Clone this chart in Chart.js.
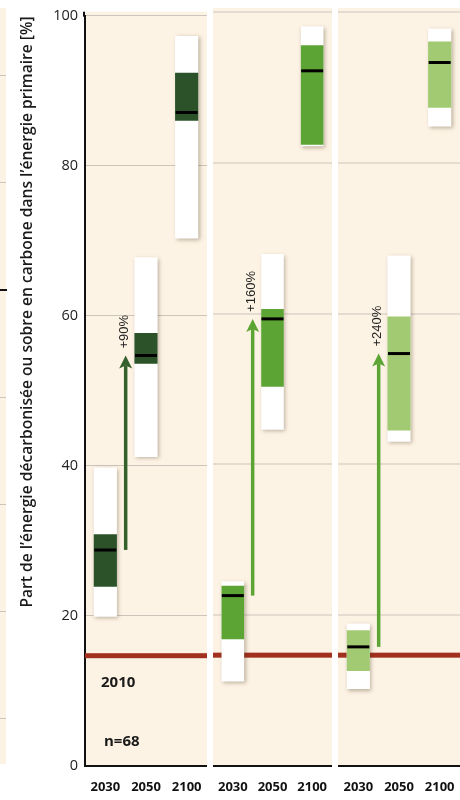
<!DOCTYPE html>
<html lang="fr">
<head>
<meta charset="utf-8">
<title>Part de l'énergie décarbonisée</title>
<script src="https://cdn.jsdelivr.net/npm/chart.js@4.4.1/dist/chart.umd.min.js"></script>
<style>
  html, body { margin: 0; padding: 0; background: #fff; }
  body { width: 460px; height: 800px; position: relative; overflow: hidden; }
  .panel { position: absolute; top: 0; height: 800px; }
  #p1 { left: 0; width: 207px; }
  #p2 { left: 213px; width: 119px; }
  #p3 { left: 338px; width: 122px; }
  /* bit of the neighbouring figure, cut at the left edge */
  #edge {
    position: absolute; left: 0; top: 8px; width: 6px; height: 756px;
    background: repeating-linear-gradient(#fdf3e4 0 67px, #cbc5bc 67px 68px, #fdf3e4 68px 107.2px);
  }
  #edge-tick { position: absolute; left: 0; top: 289px; width: 7px; height: 2px; background: #111; }
</style>
</head>
<body>
<div id="edge"></div>
<div id="edge-tick"></div>
<div class="panel" id="p1"><canvas id="chart1"></canvas></div>
<div class="panel" id="p2"><canvas id="chart2"></canvas></div>
<div class="panel" id="p3"><canvas id="chart3"></canvas></div>

<script>
const years = ['2030', '2050', '2100'];
const yTicks = [0, 20, 40, 60, 80, 100];

// panel 1 - dark green
const min1 = [19.9, 41.2, 70.3];
const max1 = [39.8, 67.8, 97.3];
const low1 = [23.9, 53.6, 86.0];
const high1 = [30.9, 57.7, 92.4];
const median1 = [28.8, 54.7, 87.1];

// panel 2 - green
const min2 = [11.2, 44.6, 82.2];
const max2 = [24.5, 67.9, 98.1];
const low2 = [16.8, 50.3, 82.4];
const high2 = [23.9, 60.6, 95.6];
const median2 = [22.6, 59.3, 92.2];

// panel 3 - light green
const min3 = [10.2, 43.0, 84.8];
const max3 = [18.9, 67.7, 97.8];
const low3 = [12.6, 44.5, 87.3];
const high3 = [18.0, 59.6, 96.1];
const median3 = [15.8, 54.7, 93.3];

const level2010 = 14.7;
const growth = ['+90%', '+160%', '+240%'];
const sampleSize = 'n=68';
const axisTitle = 'Part de l\u2019énergie décarbonisée ou sobre en carbone dans l\u2019énergie primaire [%]';

const gridColor = '#cbc5bc';

function pairs(a, b) {
    return a.map((v, i) => [v, b[i]]);
}

// background, grid (panels 2-3), 2010 line, box shadows, arrow + label
const panelDecor = {
    id: 'panelDecor',
    beforeDraw(chart) {
        const a = chart.chartArea, ctx = chart.ctx;
        ctx.save();
        ctx.fillStyle = '#fdf3e4';
        ctx.fillRect(a.left, a.top - 4, a.right - a.left, a.bottom - a.top + 4);
        ctx.restore();
    },
    beforeDatasetsDraw(chart, args, opts) {
        const a = chart.chartArea, ctx = chart.ctx, ys = chart.scales.y;
        ctx.save();
        if (!opts.first) {
            // y scale is hidden here, so the grid is drawn by hand from its ticks
            ctx.fillStyle = gridColor;
            yTicks.forEach(v => {
                if (v === 0) return;
                const gy = Math.round(ys.getPixelForValue(v));
                ctx.fillRect(a.left, gy - 0.5, a.right - a.left, 1);
            });
        }
        const y = ys.getPixelForValue(opts.level);
        ctx.fillStyle = '#a2301f';
        ctx.fillRect(a.left, y - 2.5, a.right - a.left, 5);
        ctx.restore();
    },
    beforeDatasetDraw(chart, args) {
        if (args.index !== 0) return;
        const ctx = chart.ctx;
        ctx.save();
        ctx.shadowColor = 'rgba(70,50,30,0.35)';
        ctx.shadowBlur = 4;
        ctx.shadowOffsetX = 1.5;
        ctx.shadowOffsetY = 1.5;
    },
    afterDatasetDraw(chart, args) {
        if (args.index === 0) chart.ctx.restore();
    },
    afterDatasetsDraw(chart, args, opts) {
        const ctx = chart.ctx, xs = chart.scales.x, ys = chart.scales.y;
        const ax = (xs.getPixelForValue(0) + xs.getPixelForValue(1)) / 2;
        const y0 = ys.getPixelForValue(opts.from);
        const y1 = ys.getPixelForValue(opts.to);
        ctx.save();
        ctx.fillStyle = opts.arrowColor;
        ctx.fillRect(ax - 1.75, y1 + 10, 3.5, y0 - y1 - 10);
        ctx.beginPath();
        ctx.moveTo(ax, y1);
        ctx.lineTo(ax - 6.5, y1 + 13);
        ctx.lineTo(ax, y1 + 10);
        ctx.lineTo(ax + 6.5, y1 + 13);
        ctx.closePath();
        ctx.fill();

        ctx.translate(ax - 1, y1 - 7);
        ctx.rotate(-Math.PI / 2);
        ctx.font = '13px "Liberation Sans", Arial, sans-serif';
        ctx.fillStyle = '#222';
        ctx.textAlign = 'left';
        ctx.textBaseline = 'middle';
        ctx.fillText(opts.label, 0, 0);
        ctx.restore();
    },
    afterDraw(chart, args, opts) {
        if (!opts.first) return;
        const ctx = chart.ctx, a = chart.chartArea;
        const redY = chart.scales.y.getPixelForValue(opts.level);
        ctx.save();
        // axis line runs a little above the 100 grid line
        ctx.fillStyle = '#111';
        ctx.fillRect(a.left - 2, a.top - 4, 2, 5);

        ctx.fillStyle = '#1a1a1a';
        ctx.font = 'bold 15px "Open Sans", sans-serif';
        ctx.textAlign = 'left';
        ctx.textBaseline = 'middle';
        ctx.fillText('2010', a.left + 16, redY + 27);
        ctx.fillText(sampleSize, a.left + 19, a.bottom - 24);

        // y axis title
        ctx.translate(28, 312);
        ctx.rotate(-Math.PI / 2);
        ctx.font = '600 15.6px "Open Sans", sans-serif';
        ctx.textAlign = 'center';
        ctx.fillText(axisTitle, 0, 0);
        ctx.restore();
    }
};

function makePanel(id, p) {
    const ctx = document.getElementById(id);
    return new Chart(ctx, {
        type: 'bar',
        data: {
            labels: years,
            datasets: [{
                data: pairs(p.min, p.max),
                backgroundColor: '#ffffff',
                grouped: false,
                order: 3,
                barPercentage: 0.57,
                categoryPercentage: 1,
                borderSkipped: false
            }, {
                data: pairs(p.low, p.high),
                backgroundColor: p.color,
                grouped: false,
                order: 2,
                barPercentage: 0.57,
                categoryPercentage: 1,
                borderSkipped: false
            }, {
                type: 'line',
                data: p.median,
                showLine: false,
                pointStyle: 'line',
                pointRadius: 11,
                pointHoverRadius: 11,
                pointBorderWidth: 3,
                pointBorderColor: '#000',
                order: 1
            }]
        },
        options: {
            responsive: true,
            maintainAspectRatio: false,
            animation: false,
            events: [],
            layout: { padding: { top: 12, left: 0, right: 0, bottom: 0 }, autoPadding: false },
            plugins: {
                legend: { display: false },
                tooltip: { enabled: false },
                panelDecor: {
                    first: p.first,
                    level: level2010,
                    from: p.median[0],
                    to: p.median[1],
                    label: p.growth,
                    arrowColor: p.arrowColor
                }
            },
            scales: {
                x: {
                    grid: { display: false, drawTicks: false },
                    border: { display: true, color: '#111', width: 2 },
                    ticks: {
                        font: { family: 'Open Sans', size: 13, weight: 'bold' },
                        color: '#111',
                        padding: 13,
                        maxRotation: 0,
                        autoSkip: false
                    },
                    // labels fit inside their own column, no side padding wanted
                    afterFit: s => { s.height = 34; s.paddingLeft = 0; s.paddingRight = 0; }
                },
                y: {
                    display: p.first,
                    min: 0,
                    max: 100,
                    afterBuildTicks: s => { s.ticks = yTicks.map(v => ({ value: v })); },
                    ticks: {
                        font: { family: 'Open Sans', size: 14.5 },
                        color: '#222',
                        padding: 7
                    },
                    grid: { color: gridColor, lineWidth: 1, drawTicks: false },
                    border: { color: '#111', width: 2 },
                    afterFit: s => { s.width = p.first ? 85 : 0; }
                }
            }
        },
        plugins: [panelDecor]
    });
}

makePanel('chart1', {
    first: true, min: min1, max: max1, low: low1, high: high1, median: median1,
    color: '#2b5228', arrowColor: '#33602d', growth: growth[0]
});
makePanel('chart2', {
    first: false, min: min2, max: max2, low: low2, high: high2, median: median2,
    color: '#5ca433', arrowColor: '#5ca433', growth: growth[1]
});
makePanel('chart3', {
    first: false, min: min3, max: max3, low: low3, high: high3, median: median3,
    color: '#a2ca72', arrowColor: '#5ca433', growth: growth[2]
});
</script>
</body>
</html>
